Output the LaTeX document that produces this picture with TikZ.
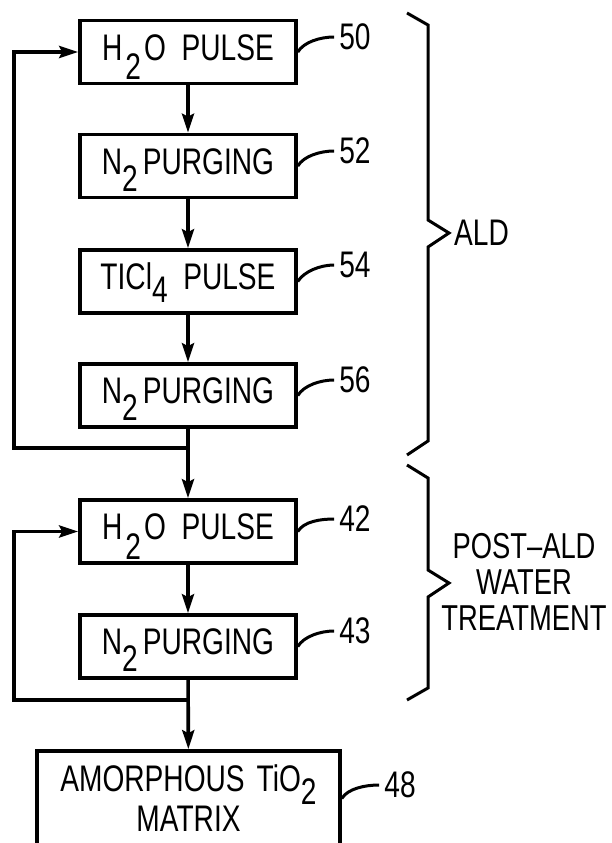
\documentclass[tikz,border=0pt]{standalone}
\usepackage{fontspec}
\setmainfont{Liberation Sans}[FakeStretch=0.76]
\usetikzlibrary{arrows.meta}
\newcommand{\lowidx}[2][16pt]{\raisebox{-#1}{#2}}

\begin{document}
\begin{tikzpicture}[x=1pt,y=-1pt,
  every node/.style={font=\fontsize{37}{40}\selectfont},
  stepbox/.style={draw=black, line width=3.6pt, minimum width=216pt, minimum height=63pt, inner sep=0pt, text height=26pt, text depth=10pt},
  flow/.style={line width=3.6pt, -{Stealth[length=19pt,width=12pt,inset=3pt]}},
  leader/.style={line width=3pt},
  refnum/.style={inner sep=5pt},
  brace/.style={line width=3pt}]
\useasboundingbox (0,0) rectangle (611,843);
% ALD cycle
\node[stepbox] (b50) at (188,52.0) {H\kern3pt\lowidx[20pt]{2}\kern3pt O\ \ PULSE};
\node[stepbox] (b52) at (188,166.0) {N\lowidx[17pt]{2}\kern5pt PURGING};
\node[stepbox] (b54) at (188,281.5) {TICl\lowidx[13pt]{4}\ \ PULSE};
\node[stepbox] (b56) at (188,395.5) {N\lowidx[17pt]{2}\kern5pt PURGING};
% post-ALD water treatment
\node[stepbox] (b42) at (188,531.5) {H\kern3pt\lowidx[20pt]{2}\kern3pt O\ \ PULSE};
\node[stepbox] (b43) at (188,646.5) {N\lowidx[17pt]{2}\kern5pt PURGING};
\node[draw=black, line width=3.6pt, minimum width=303pt, minimum height=95pt, inner sep=0pt, align=center] (b48) at (188.5,798.5) {AMORPHOUS\hspace{12pt}TiO\lowidx[13pt]{2}\\MATRIX};
\coordinate (j1) at (188,448);
\coordinate (c1) at (14,448);
\coordinate (j2) at (188,700);
\coordinate (c2) at (14,700);
\draw[flow] (b50) -- (b52);
\draw[flow] (b52) -- (b54);
\draw[flow] (b54) -- (b56);
\draw[flow] (b56) -- (b42);
\draw[flow] (j1) -- (c1) |- (b50.west);
\draw[flow] (b42) -- (b43);
\draw[flow] (b43) -- (b48);
\draw[flow] (j2) -- (c2) |- (b42.west);
% reference numerals
\node[refnum] (l50) at (355,37) {50};
\node[refnum] (l52) at (355,151) {52};
\node[refnum] (l54) at (355,265) {54};
\node[refnum] (l56) at (355,380) {56};
\node[refnum] (l42) at (355,519) {42};
\node[refnum] (l43) at (355,631) {43};
\node[refnum] (l48) at (400,785) {48};
\foreach \b/\l in {b50/l50,b52/l52,b54/l54,b56/l56,b42/l42,b43/l43,b48/l48}
  \draw[leader] (\b.east) .. controls +(6,-10) and +(-14,0) .. (\l.west);
% braces
\draw[brace] (407,13) -- (428,25) -- (428,220) -- (449,233) -- (428,247) -- (428,441) -- (407,455);
\draw[brace] (407,465) -- (428,478) -- (428,570) -- (449,583) -- (428,597) -- (428,688) -- (407,700);
\node[anchor=west, inner sep=3pt] (ald) at (451,233) {ALD};
\node[align=center, font=\fontsize{36}{36}\selectfont] (postald) at (524,582) {POST--ALD\\WATER\\TREATMENT};
\end{tikzpicture}
\end{document}
